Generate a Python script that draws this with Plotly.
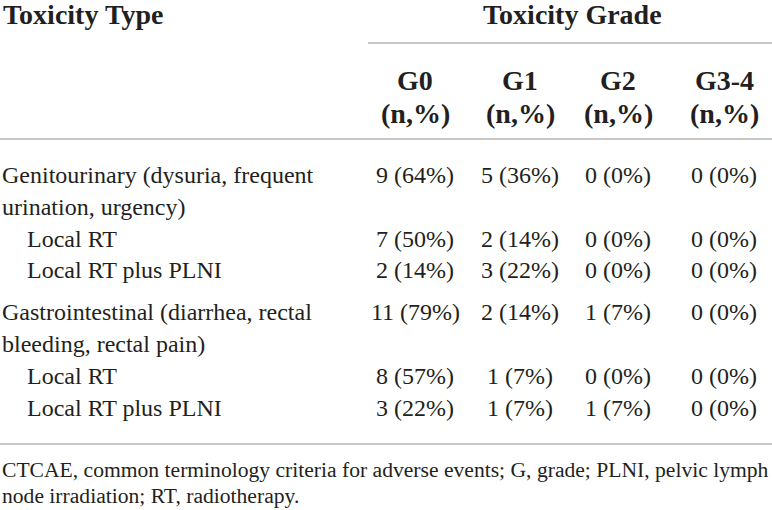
import plotly.graph_objects as go

# table content
toxicity_types = [
    "Genitourinary (dysuria, frequent<br>urination, urgency)",
    "Local RT",
    "Local RT plus PLNI",
    "Gastrointestinal (diarrhea, rectal<br>bleeding, rectal pain)",
    "Local RT",
    "Local RT plus PLNI",
]
is_subgroup = [False, True, True, False, True, True]
grades = ["G0", "G1", "G2", "G3-4"]
g0 = ["9 (64%)", "7 (50%)", "2 (14%)", "11 (79%)", "8 (57%)", "3 (22%)"]
g1 = ["5 (36%)", "2 (14%)", "3 (22%)", "2 (14%)", "1 (7%)", "1 (7%)"]
g2 = ["0 (0%)", "0 (0%)", "0 (0%)", "1 (7%)", "0 (0%)", "1 (7%)"]
g34 = ["0 (0%)", "0 (0%)", "0 (0%)", "0 (0%)", "0 (0%)", "0 (0%)"]
footnote = ("CTCAE, common terminology criteria for adverse events; G, grade; PLNI, pelvic lymph<br>"
            "node irradiation; RT, radiotherapy.")

W, H = 772, 510
TEXT = "#231f20"
RULE = "#b4b4b4"
FONT = "Liberation Serif"

col_x = [415, 520, 618, 724]
row_top = 175
line_h = 31.8
group_gap = 10

fig = go.Figure()
ann = []


def add_text(x, y, text, size=24, bold=False, anchor="left"):
    ann.append(dict(
        x=x, y=y, xref="x", yref="y", text=f"<b>{text}</b>" if bold else text,
        showarrow=False, xanchor=anchor, yanchor="middle",
        font=dict(family=FONT, size=size, color=TEXT),
    ))


# header
add_text(1, 14, "Toxicity Type", size=28, bold=True)
add_text(572, 14, "Toxicity Grade", size=28, bold=True, anchor="center")
for cx, g in zip(col_x, grades):
    add_text(cx, 80, g, size=28, bold=True, anchor="center")
    add_text(cx, 113, "(n,%)", size=28, bold=True, anchor="center")

# body
line_idx = 0
group = -1
for i, label in enumerate(toxicity_types):
    if not is_subgroup[i]:
        group += 1
    y = row_top + line_idx * line_h + group * group_gap
    parts = label.split("<br>")
    for k, part in enumerate(parts):
        add_text(25 if is_subgroup[i] else 0, y + k * line_h, part)
    for cx, col in zip(col_x, [g0, g1, g2, g34]):
        add_text(cx, y, col[i], anchor="center")
    line_idx += len(parts)

# footnote
for k, part in enumerate(footnote.split("<br>")):
    add_text(0, 470 + k * 25.5, part, size=21.6)

rules = [(368, W, 43), (0, W, 139), (0, W, 444)]
shapes = [dict(type="line", xref="x", yref="y", x0=a, x1=b, y0=y, y1=y,
               line=dict(color=RULE, width=1.5)) for a, b, y in rules]

fig.add_trace(go.Scatter(x=[0, W], y=[0, H], mode="markers",
                         marker=dict(opacity=0), hoverinfo="skip", showlegend=False))
fig.update_layout(
    width=W, height=H,
    margin=dict(l=0, r=0, t=0, b=0),
    paper_bgcolor="white", plot_bgcolor="white",
    xaxis=dict(range=[0, W], visible=False, fixedrange=True),
    yaxis=dict(range=[H, 0], visible=False, fixedrange=True),
    annotations=ann, shapes=shapes,
)

# drop the default page margin so the figure sits at the window corner
fig.write_html("out.html", config={"displayModeBar": False},
               post_script="document.body.style.margin='0';document.body.style.overflow='hidden';")
